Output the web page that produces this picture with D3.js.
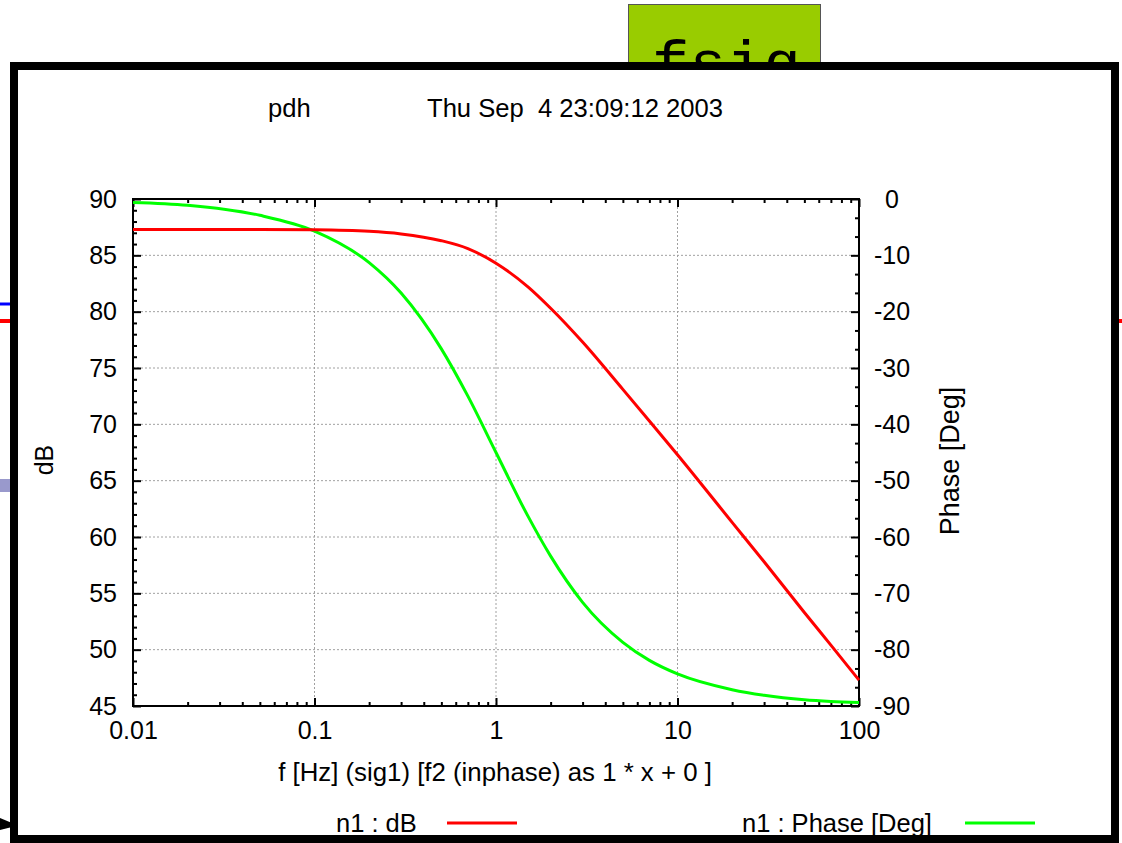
<!DOCTYPE html>
<html>
<head>
<meta charset="utf-8">
<script src="https://cdn.jsdelivr.net/npm/d3@7"></script>
<style>
  body { margin: 0; background: #fff; }
  svg { display: block; font-family: "Liberation Sans", Arial, sans-serif; }
</style>
</head>
<body>
<div id="chart"></div>
<script>
// values
const freqs = [0.01, 0.02, 0.05, 0.1, 0.2, 0.3, 0.5, 0.7, 1, 1.5, 2, 3, 5, 7, 10, 20, 30, 50, 70, 100];
const dB = [87.3, 87.3, 87.29, 87.26, 87.13, 86.9, 86.3, 85.6, 84.3, 82.2, 80.3, 77.3, 73.1, 70.3, 67.3, 61.3, 57.8, 53.3, 50.4, 47.3];
const phase = [-0.6, -1.1, -2.9, -5.7, -11.3, -16.7, -26.6, -35, -45, -56.3, -63.4, -71.6, -78.7, -81.9, -84.3, -87.1, -88.1, -88.9, -89.2, -89.4];
const xTickLabels = ["0.01", "0.1", "1", "10", "100"];
const yTicks = [45, 50, 55, 60, 65, 70, 75, 80, 85, 90];
const y2Ticks = [0, -10, -20, -30, -40, -50, -60, -70, -80, -90];

const W = 1122, H = 843;
const margin = { top: 199, right: 263, bottom: 137, left: 133 };
const width = W - margin.left - margin.right;
const height = H - margin.top - margin.bottom;

const svg = d3.select("#chart").append("svg")
  .attr("width", W)
  .attr("height", H);

// --- stuff behind the window ---
svg.append("rect")
  .attr("x", 628.5).attr("y", 4.5).attr("width", 192).attr("height", 60)
  .attr("fill", "#99cc00").attr("stroke", "#555").attr("stroke-width", 1);
svg.append("text")
  .attr("x", 652).attr("y", 83)
  .attr("font-family", "'Liberation Mono', 'DejaVu Sans Mono', monospace")
  .attr("font-size", 62)
  .attr("fill", "#000")
  .text("fsig");
svg.append("line").attr("x1", 0).attr("x2", 12).attr("y1", 304).attr("y2", 304)
  .attr("stroke", "#0000ff").attr("stroke-width", 3);
svg.append("line").attr("x1", 0).attr("x2", 12).attr("y1", 321).attr("y2", 321)
  .attr("stroke", "#ff0000").attr("stroke-width", 4);
svg.append("line").attr("x1", 1116).attr("x2", 1122).attr("y1", 321).attr("y2", 321)
  .attr("stroke", "#ff0000").attr("stroke-width", 4);
svg.append("rect").attr("x", 0).attr("y", 479).attr("width", 12).attr("height", 13)
  .attr("fill", "#9999cc");
svg.append("polygon").attr("points", "0,818 12,823 12,827 0,830").attr("fill", "#000");

// window frame
svg.append("rect")
  .attr("x", 14).attr("y", 66).attr("width", 1101).attr("height", 773)
  .attr("fill", "#fff").attr("stroke", "#000").attr("stroke-width", 8);

// --- plot ---
const g = svg.append("g")
  .attr("transform", `translate(${margin.left},${margin.top})`);

const x = d3.scaleLog().domain([0.01, 100]).range([0, width]);
const y = d3.scaleLinear().domain([45, 90]).range([height, 0]);
const y2 = d3.scaleLinear().domain([-90, 0]).range([height, 0]);

const majorX = x.ticks().filter(d => xTickLabels.includes(String(d)));
const minorX = x.ticks().filter(d => !xTickLabels.includes(String(d)));
const minorY = d3.range(45, 91, 1).filter(d => d % 5 !== 0);
const minorY2 = d3.range(0, 28).map(i => -i * 10 / 3).filter((d, i) => i % 3 !== 0);

// grid
g.append("g").selectAll("line")
  .data(majorX.slice(1, -1))
  .join("line")
  .attr("x1", d => x(d)).attr("x2", d => x(d))
  .attr("y1", 0).attr("y2", height)
  .attr("stroke", "#a0a0a0").attr("stroke-dasharray", "2,2");
g.append("g").selectAll("line")
  .data(yTicks.slice(1, -1))
  .join("line")
  .attr("x1", 0).attr("x2", width)
  .attr("y1", d => y(d)).attr("y2", d => y(d))
  .attr("stroke", "#a0a0a0").attr("stroke-dasharray", "2,2");

const fontSize = 25;

function styleAxis(sel) {
  sel.select(".domain").remove();
  sel.selectAll(".tick line").attr("stroke", "#000").attr("stroke-width", 2);
  sel.selectAll("text").attr("font-size", fontSize).attr("font-family", "'Liberation Sans', Arial, sans-serif").attr("fill", "#000");
}

// bottom axis
g.append("g").attr("transform", `translate(0,${height})`)
  .call(d3.axisBottom(x).tickValues(majorX).tickFormat((d, i) => xTickLabels[i]).tickSize(-8).tickPadding(15))
  .call(styleAxis);
g.append("g").attr("transform", `translate(0,${height})`)
  .call(d3.axisBottom(x).tickValues(minorX).tickFormat("").tickSize(-4))
  .call(styleAxis);
// top mirror
g.append("g")
  .call(d3.axisTop(x).tickValues(majorX).tickFormat("").tickSize(-8))
  .call(styleAxis);
g.append("g")
  .call(d3.axisTop(x).tickValues(minorX).tickFormat("").tickSize(-4))
  .call(styleAxis);

// left axis
g.append("g")
  .call(d3.axisLeft(y).tickValues(yTicks).tickFormat(d => String(d)).tickSize(-8).tickPadding(16))
  .call(styleAxis);
g.append("g")
  .call(d3.axisLeft(y).tickValues(minorY).tickFormat("").tickSize(-4))
  .call(styleAxis);

// right axis (phase)
const rightAxis = g.append("g").attr("transform", `translate(${width},0)`)
  .call(d3.axisRight(y2).tickValues(y2Ticks).tickFormat(d => String(d)).tickSize(-8).tickPadding(33))
  .call(styleAxis);
rightAxis.selectAll("text").attr("text-anchor", "middle");
g.append("g").attr("transform", `translate(${width},0)`)
  .call(d3.axisRight(y2).tickValues(minorY2).tickFormat("").tickSize(-4))
  .call(styleAxis);

// plot border
g.append("rect")
  .attr("width", width).attr("height", height)
  .attr("fill", "none").attr("stroke", "#000").attr("stroke-width", 2);

// curves
const rows = freqs.map((f, i) => ({ f, dB: dB[i], ph: phase[i] }));
g.append("path")
  .datum(rows)
  .attr("fill", "none").attr("stroke", "#00ff00").attr("stroke-width", 3)
  .attr("d", d3.line().curve(d3.curveMonotoneX).x(d => x(d.f)).y(d => y2(d.ph)));
g.append("path")
  .datum(rows)
  .attr("fill", "none").attr("stroke", "#ff0000").attr("stroke-width", 3)
  .attr("d", d3.line().curve(d3.curveMonotoneX).x(d => x(d.f)).y(d => y(d.dB)));

// titles and labels
svg.append("text").attr("x", 268).attr("y", 117).attr("font-size", 25.6).text("pdh");
svg.append("text").attr("x", 427).attr("y", 117).attr("font-size", 25.6)
  .attr("xml:space", "preserve").style("white-space", "pre")
  .text("Thu Sep  4 23:09:12 2003");

svg.append("text")
  .attr("x", 495).attr("y", 781)
  .attr("text-anchor", "middle").attr("font-size", 25.8)
  .text("f [Hz] (sig1) [f2 (inphase) as 1 * x + 0 ]");

svg.append("text")
  .attr("transform", "translate(53,460) rotate(-90)")
  .attr("text-anchor", "middle").attr("font-size", 25)
  .text("dB");
svg.append("text")
  .attr("transform", "translate(959,461) rotate(-90)")
  .attr("text-anchor", "middle").attr("font-size", 27)
  .text("Phase [Deg]");

// legend
const legend = [
  { label: "n1 : dB", color: "#ff0000", tx: 336, lx: 447 },
  { label: "n1 : Phase [Deg]", color: "#00ff00", tx: 742, lx: 965 }
];
legend.forEach(l => {
  svg.append("text").attr("x", l.tx).attr("y", 832).attr("font-size", 25.5).text(l.label);
  svg.append("line").attr("x1", l.lx).attr("x2", l.lx + 70).attr("y1", 823).attr("y2", 823)
    .attr("stroke", l.color).attr("stroke-width", 3);
});
</script>
</body>
</html>
